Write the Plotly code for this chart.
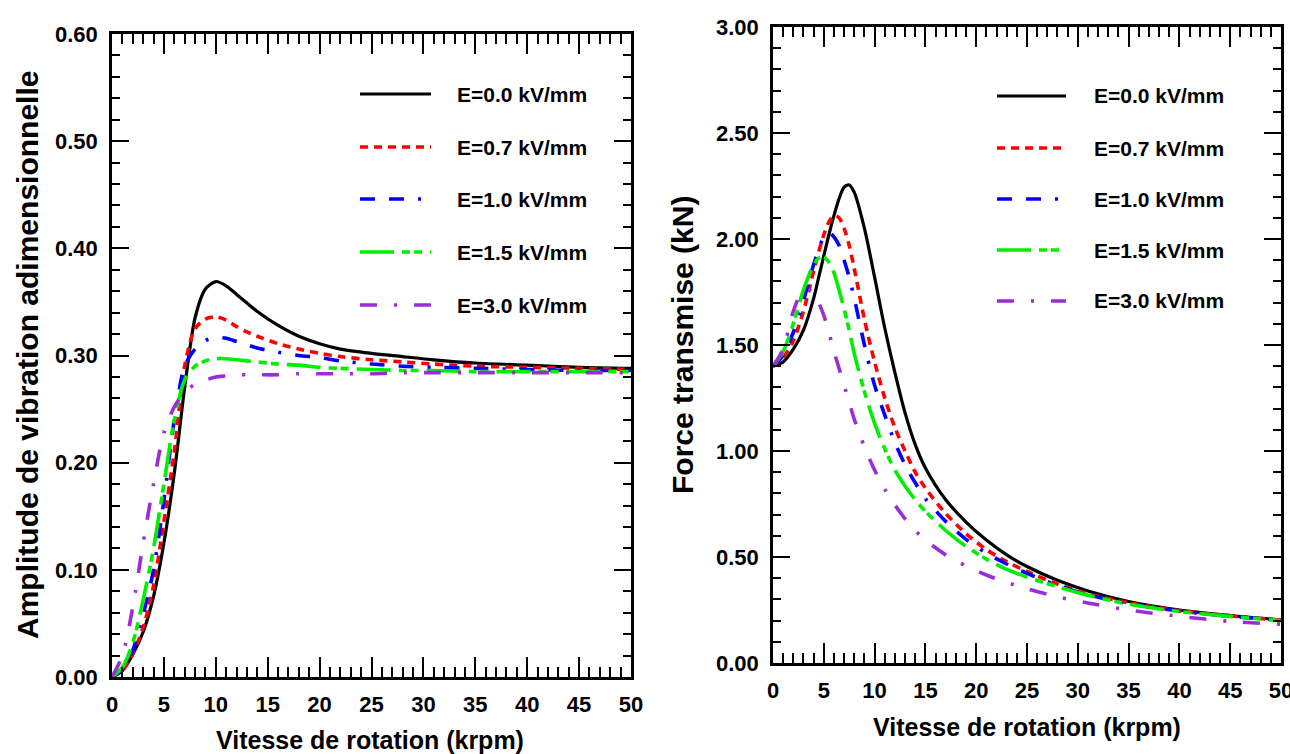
import plotly.graph_objects as go

# ---------------- data ----------------
speed_amp = [0, 1, 2, 3, 4, 5, 6, 7, 8, 9, 10, 11, 12, 13, 14, 16, 18, 20, 22, 25, 28, 31, 35, 40, 45, 50]
amp_E00 = [0, 0.006, 0.021, 0.042, 0.075, 0.125, 0.19, 0.27, 0.335, 0.362, 0.369, 0.365, 0.357, 0.349,
           0.341, 0.328, 0.318, 0.311, 0.306, 0.302, 0.299, 0.296, 0.293, 0.291, 0.289, 0.288]
amp_E07 = [0, 0.006, 0.022, 0.046, 0.085, 0.145, 0.21, 0.29, 0.325, 0.334, 0.336, 0.333, 0.327, 0.322,
           0.318, 0.311, 0.306, 0.302, 0.299, 0.296, 0.294, 0.292, 0.290, 0.289, 0.288, 0.287]
amp_E10 = [0, 0.007, 0.025, 0.058, 0.10, 0.165, 0.24, 0.29, 0.306, 0.314, 0.317, 0.316, 0.313, 0.310,
           0.307, 0.303, 0.300, 0.298, 0.295, 0.292, 0.290, 0.289, 0.288, 0.287, 0.286, 0.286]
amp_E15 = [0, 0.009, 0.032, 0.072, 0.12, 0.18, 0.24, 0.277, 0.290, 0.295, 0.297, 0.297, 0.296, 0.295,
           0.294, 0.292, 0.291, 0.289, 0.288, 0.287, 0.286, 0.286, 0.285, 0.285, 0.285, 0.285]
amp_E30 = [0, 0.02, 0.065, 0.125, 0.18, 0.228, 0.252, 0.266, 0.273, 0.277, 0.280, 0.281, 0.282, 0.282,
           0.282, 0.282, 0.283, 0.283, 0.283, 0.283, 0.284, 0.284, 0.284, 0.284, 0.284, 0.284]

speed_force = [0, 1, 2, 3, 4, 4.5, 5, 5.5, 6, 6.5, 7, 7.5, 8, 9, 10, 11, 12, 13, 14, 15, 17, 19, 21, 23,
               25, 28, 31, 35, 40, 45, 50]
force_E00 = [1.40, 1.42, 1.48, 1.57, 1.72, 1.82, 1.92, 2.02, 2.11, 2.19, 2.245, 2.255, 2.22, 2.05, 1.82,
             1.58, 1.37, 1.18, 1.03, 0.92, 0.77, 0.665, 0.58, 0.51, 0.455, 0.39, 0.34, 0.29, 0.25, 0.224, 0.203]
force_E07 = [1.40, 1.44, 1.52, 1.66, 1.85, 1.94, 2.02, 2.08, 2.11, 2.10, 2.05, 1.97, 1.86, 1.62, 1.42,
             1.25, 1.11, 1.00, 0.90, 0.825, 0.705, 0.61, 0.535, 0.478, 0.432, 0.372, 0.327, 0.284, 0.246, 0.222, 0.202]
force_E10 = [1.40, 1.45, 1.56, 1.71, 1.88, 1.95, 2.01, 2.03, 2.01, 1.97, 1.90, 1.82, 1.72, 1.50, 1.31,
             1.17, 1.04, 0.935, 0.85, 0.775, 0.668, 0.583, 0.518, 0.467, 0.423, 0.366, 0.322, 0.28, 0.245, 0.22, 0.202]
force_E15 = [1.40, 1.47, 1.60, 1.76, 1.88, 1.91, 1.915, 1.89, 1.84, 1.76, 1.67, 1.57, 1.46, 1.28, 1.13,
             1.01, 0.91, 0.835, 0.77, 0.715, 0.625, 0.55, 0.49, 0.442, 0.405, 0.36, 0.32, 0.278, 0.243, 0.22, 0.20]
force_E30 = [1.40, 1.48, 1.66, 1.76, 1.75, 1.70, 1.64, 1.56, 1.47, 1.39, 1.31, 1.23, 1.15, 1.02, 0.91,
             0.82, 0.745, 0.68, 0.625, 0.58, 0.51, 0.458, 0.415, 0.38, 0.35, 0.312, 0.283, 0.25, 0.22, 0.196, 0.183]

series_labels = ["E=0.0 kV/mm", "E=0.7 kV/mm", "E=1.0 kV/mm", "E=1.5 kV/mm", "E=3.0 kV/mm"]
x_ticks = [0, 5, 10, 15, 20, 25, 30, 35, 40, 45, 50]

# ---------------- styles ----------------
colors = ["#000000", "#ff0000", "#0000ff", "#00ee00", "#9a2ed6"]
dashes = ["solid", "8px,6px", "15px,14px,15px,14px,3px,14px", "34px,8px,8px,4px,8px,8px", "17px,17px,3px,17px"]
widths = [3.2, 3.6, 3.6, 3.6, 3.6]

W, H = 1290, 754
FONT = "Liberation Sans, Arial, sans-serif"


def px_x(p):
    return p / W


def px_y(p):
    return 1 - p / H


fig = go.Figure()

amp_series = [amp_E00, amp_E07, amp_E10, amp_E15, amp_E30]
force_series = [force_E00, force_E07, force_E10, force_E15, force_E30]

for i in range(5):
    fig.add_trace(go.Scatter(x=speed_amp, y=amp_series[i], mode="lines", name=series_labels[i],
                             line=dict(color=colors[i], width=widths[i], dash=dashes[i], shape="spline", smoothing=0.8),
                             xaxis="x", yaxis="y", showlegend=False))
for i in range(5):
    fig.add_trace(go.Scatter(x=speed_force, y=force_series[i], mode="lines", name=series_labels[i],
                             line=dict(color=colors[i], width=widths[i], dash=dashes[i], shape="spline", smoothing=0.8),
                             xaxis="x2", yaxis="y2", showlegend=False))

tickfont = dict(family=FONT, size=22, color="black", weight="bold")


def xaxis_cfg(domain, anchor):
    return dict(domain=domain, anchor=anchor, range=[0, 50], tickvals=x_ticks,
                ticks="inside", ticklen=20, tickwidth=2, tickcolor="black",
                showline=True, linecolor="black", linewidth=2.5, mirror="ticks",
                showgrid=False, zeroline=False, tickfont=tickfont, ticklabelstandoff=6,
                ticklabeloverflow="allow",
                minor=dict(ticks="inside", ticklen=10, tickwidth=1.6, tickcolor="black", dtick=1, showgrid=False),
                automargin=False)


def yaxis_cfg(domain, anchor, rng, dtick, mdtick):
    return dict(domain=domain, anchor=anchor, range=rng, dtick=dtick, tick0=0, tickformat=".2f",
                ticks="inside", ticklen=17, tickwidth=2, tickcolor="black",
                showline=True, linecolor="black", linewidth=2.5, mirror="ticks",
                showgrid=False, zeroline=False, tickfont=tickfont, ticklabelstandoff=7,
                ticklabeloverflow="allow",
                minor=dict(ticks="inside", ticklen=8, tickwidth=1.6, tickcolor="black", dtick=mdtick, showgrid=False),
                automargin=False)


# plot-area pixel boxes
L_x0, L_x1, L_y0, L_y1 = 112, 631, 34, 677
R_x0, R_x1, R_y0, R_y1 = 773, 1281, 27, 663

fig.update_layout(
    width=W, height=H, margin=dict(l=0, r=0, t=0, b=0),
    paper_bgcolor="white", plot_bgcolor="white",
    xaxis=xaxis_cfg([px_x(L_x0), px_x(L_x1)], "y"),
    yaxis=yaxis_cfg([px_y(L_y1), px_y(L_y0)], "x", [0, 0.6], 0.1, 0.02),
    xaxis2=xaxis_cfg([px_x(R_x0), px_x(R_x1)], "y2"),
    yaxis2=yaxis_cfg([px_y(R_y1), px_y(R_y0)], "x2", [0, 3.0], 0.5, 0.1),
)

annotations = []
shapes = []

# axis titles
annotations.append(dict(text="<b>Vitesse de rotation (krpm)</b>", x=px_x(370), y=px_y(740), xref="paper", yref="paper",
                         showarrow=False, xanchor="center", yanchor="middle",
                         font=dict(family=FONT, size=25, color="black")))
annotations.append(dict(text="<b>Vitesse de rotation (krpm)</b>", x=px_x(1027), y=px_y(727), xref="paper", yref="paper",
                         showarrow=False, xanchor="center", yanchor="middle",
                         font=dict(family=FONT, size=25, color="black")))
annotations.append(dict(text="<b>Amplitude de vibration adimensionnelle</b>", x=px_x(27), y=px_y(355), xref="paper",
                         yref="paper", showarrow=False, xanchor="center", yanchor="middle", textangle=-90,
                         font=dict(family=FONT, size=30, color="black")))
annotations.append(dict(text="<b>Force transmise (kN)</b>", x=px_x(682), y=px_y(345), xref="paper",
                         yref="paper", showarrow=False, xanchor="center", yanchor="middle", textangle=-90,
                         font=dict(family=FONT, size=30, color="black")))

# hand-drawn legends (long line samples as in the original)
legend_rows_L = [94, 147, 199, 252, 305]
legend_rows_R = [96, 148, 199, 250, 301]
for rows, lx0, lx1, tx in [(legend_rows_L, 360, 431, 455), (legend_rows_R, 997, 1066, 1092)]:
    for i, ry in enumerate(rows):
        shapes.append(dict(type="line", xref="paper", yref="paper", x0=px_x(lx0), x1=px_x(lx1),
                           y0=px_y(ry), y1=px_y(ry),
                           line=dict(color=colors[i], width=widths[i], dash=dashes[i])))
        annotations.append(dict(text="<b>" + series_labels[i] + "</b>", x=px_x(tx), y=px_y(ry), xref="paper",
                                yref="paper", showarrow=False, xanchor="left", yanchor="middle",
                                font=dict(family=FONT, size=21, color="black")))

fig.update_layout(annotations=annotations, shapes=shapes)

fig.write_html("out.html")
